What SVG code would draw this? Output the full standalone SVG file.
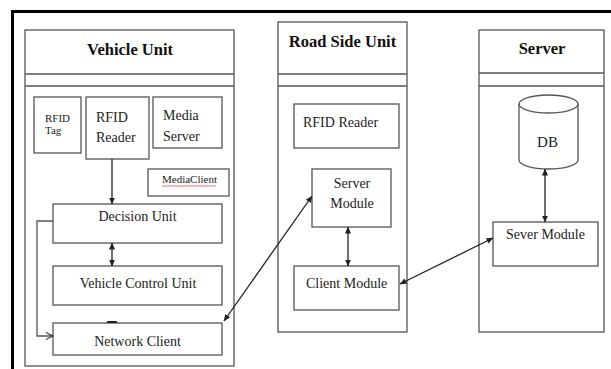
<svg xmlns="http://www.w3.org/2000/svg" width="611" height="369" viewBox="0 0 611 369">
<defs>
<style>
.box{fill:#fff;stroke:#555;stroke-width:1.3}
.div{stroke:#555;stroke-width:1.3;fill:none}
.t{font-family:"Liberation Serif","Times New Roman",serif;fill:#222;font-size:14px}
.s{font-size:11px}
.h{font-family:"Liberation Serif","Times New Roman",serif;fill:#111;font-size:16.5px;font-weight:bold;text-anchor:middle}
.c{text-anchor:middle}
.ln{stroke:#222;stroke-width:1.3;fill:none}
</style>
<marker id="ah" viewBox="0 0 8 7" refX="7.5" refY="3.5" markerWidth="7" markerHeight="6" markerUnits="userSpaceOnUse" orient="auto-start-reverse">
<path d="M0,0 L8,3.5 L0,7 z" fill="#222"/>
</marker>
<marker id="oa" viewBox="0 0 10 10" refX="9" refY="5" markerWidth="9" markerHeight="9" markerUnits="userSpaceOnUse" orient="auto">
<path d="M1,1 L9,5 L1,9" fill="none" stroke="#444" stroke-width="1.3"/>
</marker>
</defs>
<rect width="611" height="369" fill="#fff"/>
<path d="M12.5,369 V11.5 H611" fill="none" stroke="#000" stroke-width="3"/>

<g id="vehicle-unit">
<rect class="box" x="25" y="30" width="209" height="336"/>
<line class="div" x1="25" y1="74" x2="234" y2="74"/>
<line class="div" x1="25" y1="86" x2="234" y2="86"/>
<text class="h" x="130" y="55">Vehicle Unit</text>
</g>
<g id="road-side-unit">
<rect class="box" x="278" y="22" width="129" height="310"/>
<line class="div" x1="278" y1="74" x2="407" y2="74"/>
<line class="div" x1="278" y1="86" x2="407" y2="86"/>
<text class="h" x="342.5" y="47">Road Side Unit</text>
</g>
<g id="server">
<rect class="box" x="479" y="30" width="125" height="302"/>
<line class="div" x1="479" y1="73" x2="604" y2="73"/>
<line class="div" x1="479" y1="86" x2="604" y2="86"/>
<text class="h" x="542" y="54">Server</text>
</g>

<g id="rfid-tag">
<rect class="box" x="34" y="97" width="47" height="56"/>
<text class="t s" x="45" y="122">RFID</text>
<text class="t s" x="45" y="134">Tag</text>
</g>
<g id="rfid-reader-v">
<rect class="box" x="86" y="97" width="63" height="62"/>
<text class="t" x="96" y="122">RFID</text>
<text class="t" x="96" y="142">Reader</text>
</g>
<g id="media-server">
<rect class="box" x="153" y="97" width="69" height="51"/>
<text class="t" x="163" y="120">Media</text>
<text class="t" x="163" y="141">Server</text>
</g>
<g id="media-client">
<rect class="box" x="148" y="169" width="81" height="27"/>
<text class="t s" x="162" y="183">MediaClient</text>
<path d="M162,186.5 l1.5,-1 l1.5,1 l1.5,-1 l1.5,1 l1.5,-1 l1.5,1 l1.5,-1 l1.5,1 l1.5,-1 l1.5,1 l1.5,-1 l1.5,1 l1.5,-1 l1.5,1 l1.5,-1 l1.5,1 l1.5,-1 l1.5,1 l1.5,-1 l1.5,1 l1.5,-1 l1.5,1 l1.5,-1 l1.5,1 l1.5,-1 l1.5,1 l1.5,-1 l1.5,1 l1.5,-1 l1.5,1 l1.5,-1 l1.5,1 l1.5,-1 l1.5,1 l1.5,-1 l1.5,1" fill="none" stroke="#e04040" stroke-width="0.8"/>
</g>
<g id="decision-unit">
<rect class="box" x="53" y="204" width="169" height="39"/>
<text class="t c" x="137.5" y="221">Decision Unit</text>
</g>
<g id="vehicle-control-unit">
<rect class="box" x="53" y="266" width="169" height="39"/>
<text class="t c" x="138" y="288">Vehicle Control Unit</text>
</g>
<g id="network-client">
<rect class="box" x="53" y="323" width="169" height="32"/>
<text class="t c" x="137.5" y="346">Network Client</text>
</g>

<g id="rfid-reader-r">
<rect class="box" x="294" y="104" width="105" height="44"/>
<text class="t" x="303" y="127">RFID Reader</text>
</g>
<g id="server-module">
<rect class="box" x="312" y="169" width="79" height="58"/>
<text class="t c" x="352" y="188">Server</text>
<text class="t c" x="352" y="208">Module</text>
</g>
<g id="client-module">
<rect class="box" x="294" y="266" width="105" height="44"/>
<text class="t" x="306" y="288">Client Module</text>
</g>

<g id="db">
<path d="M519,104 V160 A29.5,9 0 0 0 578,160 V104" fill="#fff" stroke="#555" stroke-width="1.3"/>
<ellipse cx="548.5" cy="104" rx="29.5" ry="9" fill="#fff" stroke="#555" stroke-width="1.3"/>
<text class="t c" x="547.5" y="147" style="font-size:15px">DB</text>
</g>
<g id="sever-module">
<rect class="box" x="493" y="222" width="105" height="44"/>
<text class="t" x="506" y="239">Sever Module</text>
</g>

<g id="connectors">
<line class="ln" x1="112" y1="159" x2="112" y2="204" marker-end="url(#ah)"/>
<line class="ln" x1="112" y1="243" x2="112" y2="266" marker-start="url(#ah)" marker-end="url(#ah)"/>
<path d="M53,221 H37 V336 H53" fill="none" stroke="#555" stroke-width="1.3" marker-end="url(#oa)"/>
<line x1="107" y1="322" x2="117" y2="322" stroke="#222" stroke-width="2"/>
<line class="ln" x1="224" y1="321" x2="312" y2="196" marker-start="url(#ah)" marker-end="url(#ah)"/>
<line class="ln" x1="348" y1="227" x2="348" y2="266" marker-start="url(#ah)" marker-end="url(#ah)"/>
<line class="ln" x1="400" y1="284" x2="493" y2="238" marker-start="url(#ah)" marker-end="url(#ah)"/>
<line class="ln" x1="545" y1="169" x2="545" y2="222" marker-start="url(#ah)" marker-end="url(#ah)"/>
</g>
</svg>
